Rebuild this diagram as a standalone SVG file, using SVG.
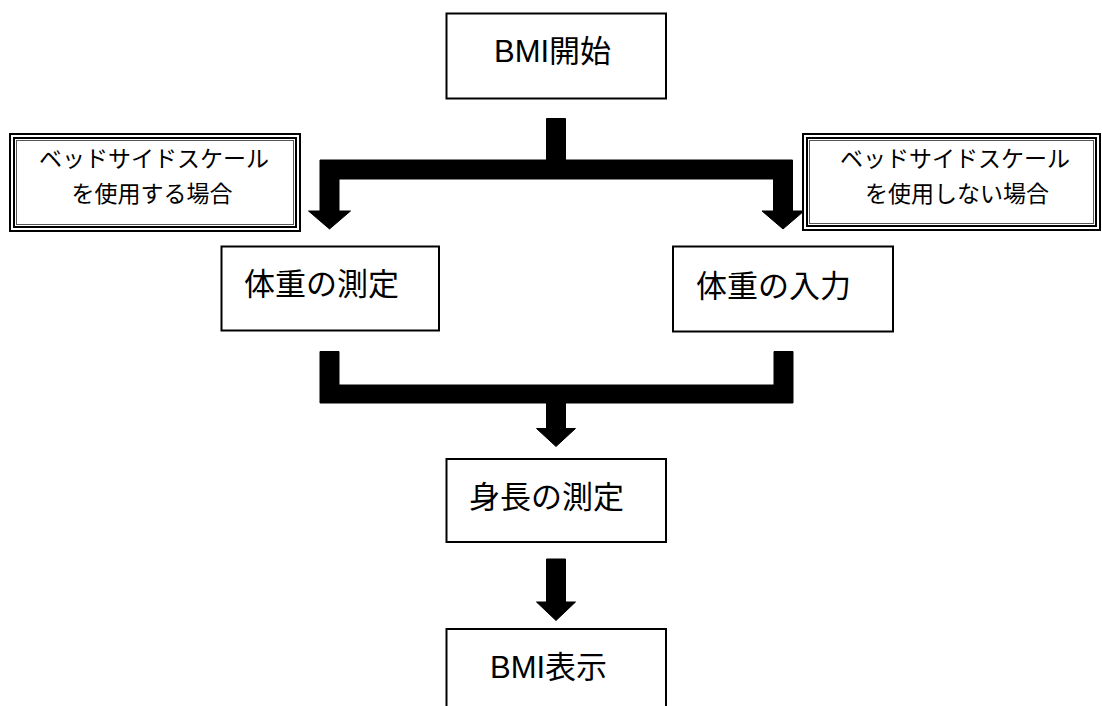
<svg xmlns="http://www.w3.org/2000/svg" width="1102" height="706" viewBox="0 0 1102 706">
<style>
.box{fill:#fff;stroke:#000;stroke-width:2}
.t{font-family:"Liberation Sans","Noto Sans CJK JP",sans-serif;font-size:31px;fill:#000}
.lt{font-family:"Liberation Serif","Noto Sans CJK JP",serif;font-size:23px;fill:#000;text-anchor:middle}
.o{fill:#fff;stroke:#000;stroke-width:2}
.m{fill:none;stroke:#000;stroke-width:2}
.i{fill:none;stroke:#555;stroke-width:1}
.c{fill:#000;stroke:#000;stroke-width:1;stroke-linejoin:round}
</style>
<rect width="1102" height="706" fill="#fff"/>
<g id="connectors">
<path class="c" d="M546.5,118.5 H565.5 V160 H792.5 V211 H804 L783,229 L762,211 H773.5 V179 H339 V211 H350.5 L329.5,229 L308.5,211 H320 V160 H546.5 Z"/>
<path class="c" d="M320,351.5 H339 V385 H774 V351.5 H793 V403 H565.5 V428.5 H575.5 L556,446.5 L536.5,428.5 H546.5 V403 H320 Z"/>
<path class="c" d="M546.5,559 H565.5 V602 H575.5 L556,620.5 L536.5,602 H546.5 Z"/>
</g>
<g id="n-start">
<rect class="box" x="446.5" y="13.5" width="219.5" height="85"/>
<text class="t" x="494" y="62">BMI開始</text>
</g>
<g id="label-left">
<rect class="o" x="10" y="134" width="290" height="97"/>
<rect class="m" x="14" y="138" width="282" height="89"/>
<rect class="i" x="16.5" y="140.5" width="277" height="84"/>
<text class="lt" x="154" y="167">ベッドサイドスケール</text>
<text class="lt" x="152" y="202">を使用する場合</text>
</g>
<g id="label-right">
<rect class="o" x="803" y="134" width="297" height="96"/>
<rect class="m" x="807" y="138" width="289" height="88"/>
<rect class="i" x="809.5" y="140.5" width="284" height="83"/>
<text class="lt" x="955" y="167">ベッドサイドスケール</text>
<text class="lt" x="957" y="202">を使用しない場合</text>
</g>
<g id="n-weight-measure">
<rect class="box" x="221.5" y="246.5" width="217.5" height="84"/>
<text class="t" x="244" y="295">体重の測定</text>
</g>
<g id="n-weight-input">
<rect class="box" x="673" y="246.5" width="220" height="85"/>
<text class="t" x="696" y="297">体重の入力</text>
</g>
<g id="n-height">
<rect class="box" x="446.5" y="459" width="219.5" height="83"/>
<text class="t" x="469" y="508">身長の測定</text>
</g>
<g id="n-bmi">
<rect class="box" x="446.5" y="629" width="219.5" height="95"/>
<text class="t" x="490" y="678">BMI表示</text>
</g>
</svg>
